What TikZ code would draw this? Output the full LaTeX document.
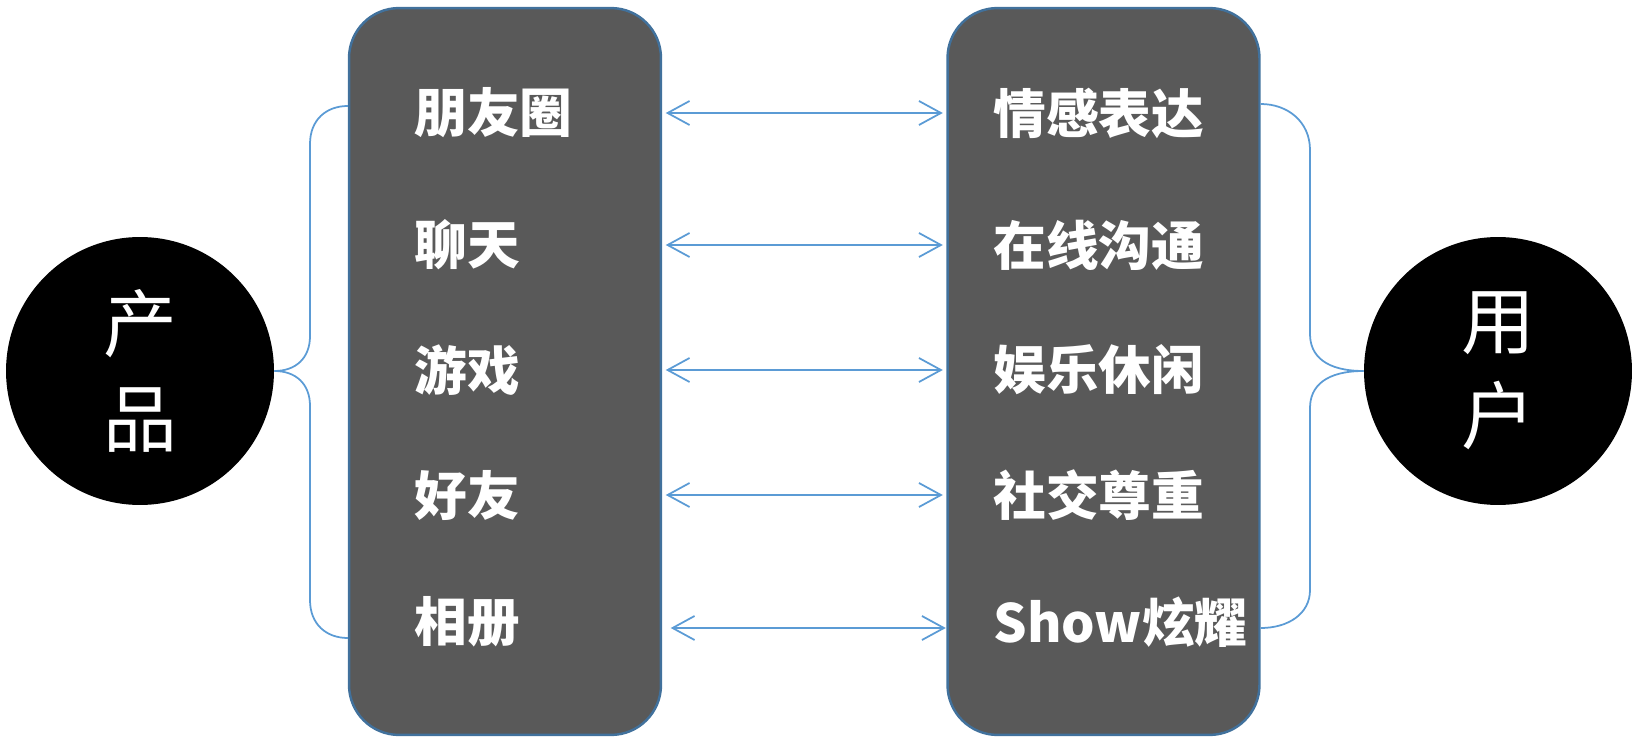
\documentclass[tikz,border=0pt]{standalone}
\usepackage{fontspec}
\newfontfamily\cjk{Noto Sans CJK SC}
\usepackage{tikz}
\usetikzlibrary{arrows.meta, calc}
\definecolor{panel gray}{HTML}{595959}
\definecolor{panel edge}{HTML}{41719C}
\definecolor{link blue}{HTML}{5B9BD5}

\begin{document}
\begin{tikzpicture}[x=0.02cm, y=-0.02cm,
        panel/.style={draw=panel edge, line width=1.4pt, fill=panel gray, rounded corners=1cm,
            minimum width=6.24cm, minimum height=14.54cm},
        hub/.style={circle, fill=black, minimum size=5.36cm, inner sep=0pt, text=white,
            align=center, font=\cjk\fontsize{42}{54}\selectfont},
        item/.style={anchor=west, text=white, inner sep=0pt, font=\cjk\bfseries\fontsize{30}{36}\selectfont},
        link/.style={draw=link blue, line width=1pt, shorten <=2pt, shorten >=2pt,
            {Straight Barb[length=0.44cm, width=0.48cm]}-{Straight Barb[length=0.44cm, width=0.48cm]}},
        brace/.style={draw=link blue, line width=1pt}]
        \useasboundingbox (0, 0) rectangle (1636, 746);
        \node[panel] (Products) at (505, 371.5) {};
        \node[panel] (Needs) at (1103.5, 371.5) {};
        \node[hub] (Product) at (140, 371) {产\\品};
        \node[hub] (User) at (1498, 371) {用\\户};
        \node[item] (Moments) at (414, 113) {朋友圈};
        \node[item] (Chat) at (414, 245) {聊天};
        \node[item] (Games) at (414, 370) {游戏};
        \node[item] (Friends) at (414, 495) {好友};
        \node[item] (Album) at (414, 622) {相册};
        \node[item] (Feelings) at (993, 113) {情感表达};
        \node[item] (Talk) at (993, 245) {在线沟通};
        \node[item] (Leisure) at (993, 370) {娱乐休闲};
        \node[item] (Respect) at (993, 495) {社交尊重};
        \node[item] (Showoff) at (993, 622) {Show炫耀};
        \draw[link] (Products.east |- Moments) -- (Needs.west |- Feelings);
        \draw[link] (Products.east |- Chat) -- (Needs.west |- Talk);
        \draw[link] (Products.east |- Games) -- (Needs.west |- Leisure);
        \draw[link] (Products.east |- Friends) -- (Needs.west |- Respect);
        \draw[link] ($(Products.east |- Album) + (5, 6)$) -- ($(Needs.west |- Showoff) + (3, 6)$);
        % braces
        \coordinate (Products top) at (Products.west |- 0, 106);
        \coordinate (Products bottom) at (Products.west |- 0, 638);
        \coordinate (Needs top) at (Needs.east |- 0, 104);
        \coordinate (Needs bottom) at (Needs.east |- 0, 628);
        \draw[brace] (Product.east) .. controls (296, 371) and (310, 358) .. (310, 336) -- (310, 144)
            .. controls (310, 120) and (326, 106) .. (Products top);
        \draw[brace] (Product.east) .. controls (296, 371) and (310, 384) .. (310, 406) -- (310, 600)
            .. controls (310, 624) and (326, 638) .. (Products bottom);
        \draw[brace] (Needs top) .. controls (1288, 104) and (1310, 122) .. (1310, 150) -- (1310, 334)
            .. controls (1310, 356) and (1326, 371) .. (User.west);
        \draw[brace] (User.west) .. controls (1326, 371) and (1310, 386) .. (1310, 408) -- (1310, 590)
            .. controls (1310, 614) and (1288, 628) .. (Needs bottom);
\end{tikzpicture}
\end{document}
